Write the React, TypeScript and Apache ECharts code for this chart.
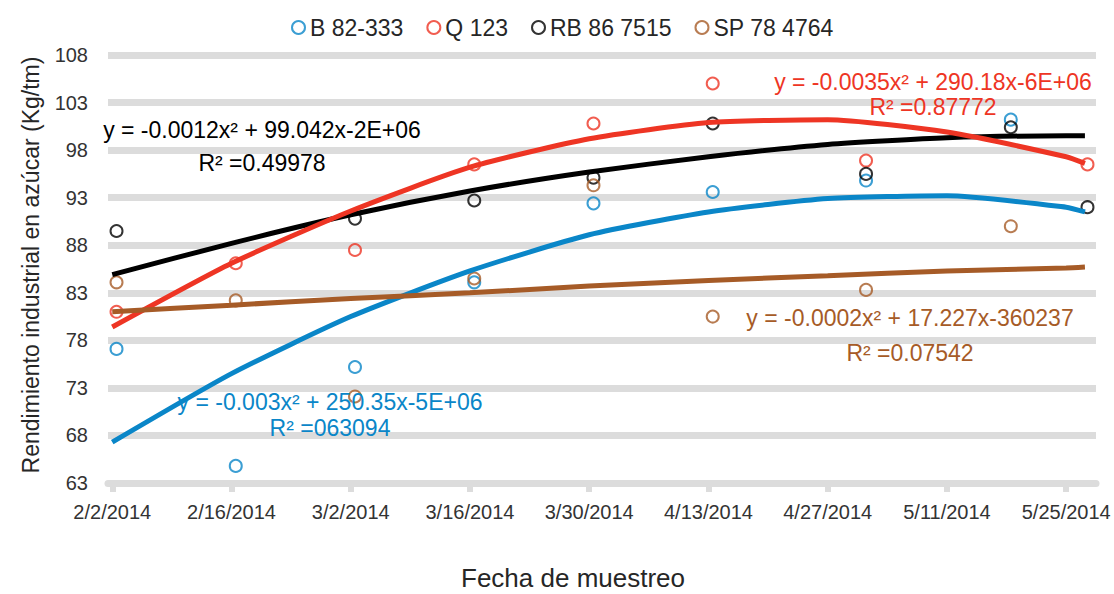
import React, { useEffect, useRef } from "react";
import * as echarts from "echarts";

// Sampling dates (ISO) and observed values; null = no visible point
const sampleDates = [
  "2014-02-02", "2014-02-16", "2014-03-02", "2014-03-16", "2014-03-30",
  "2014-04-13", "2014-05-01", "2014-05-18", "2014-05-27",
];
const seriesNames = ["B 82-333", "Q 123", "RB 86 7515", "SP 78 4764"];
const seriesColors = ["#0a86c8", "#ee3524", "#000000", "#a65b27"];

const valuesB82333 = [77.1, 64.8, 75.2, 84.1, 92.4, 93.6, 94.8, 101.2, null];
const valuesQ123 = [81.0, 86.1, 87.5, 96.5, 100.8, 105.0, 96.9, null, 96.5];
const valuesRB867515 = [89.5, null, 90.8, 92.7, 95.1, 100.8, 95.5, 100.4, 92.0];
const valuesSP784764 = [84.1, 82.2, 72.1, 84.5, 94.3, 80.5, 83.3, 90.0, null];

// Polynomial trend curves (days after 2/2/2014)
const trendDays = [0, 14, 28, 42, 56, 70, 84, 98, 112, 114.2];
const trendB82333 = [67.3, 74.5, 80.5, 85.3, 89.1, 91.5, 92.9, 93.2, 92.0, 91.5];
const trendQ123 = [79.4, 86.1, 91.6, 96.2, 99.2, 100.9, 101.2, 99.9, 97.3, 96.6];
const trendRB867515 = [84.9, 88.2, 91.2, 93.7, 95.7, 97.3, 98.6, 99.3, 99.5, 99.5];
const trendSP784764 = [81.0, 81.7, 82.4, 83.0, 83.7, 84.3, 84.8, 85.3, 85.6, 85.7];

const xTickLabels = [
  "2/2/2014", "2/16/2014", "3/2/2014", "3/16/2014", "3/30/2014",
  "4/13/2014", "4/27/2014", "5/11/2014", "5/25/2014",
];
const yMin = 63;
const yMax = 108;
const yStep = 5;

const equations = [
  "y = -0.003x² + 250.35x-5E+06",
  "y = -0.0035x² + 290.18x-6E+06",
  "y = -0.0012x² + 99.042x-2E+06",
  "y = -0.0002x² + 17.227x-360237",
];
const rSquared = ["R² =063094", "R² =0.87772", "R² =0.49978", "R² =0.07542"];

const BASE = Date.UTC(2014, 1, 2);
const DAY = 86400000;
function isoToDay(s: string) {
  const [y, m, d] = s.split("-").map(Number);
  return (Date.UTC(y, m - 1, d) - BASE) / DAY;
}
function usToDay(s: string) {
  const [m, d, y] = s.split("/").map(Number);
  return (Date.UTC(y, m - 1, d) - BASE) / DAY;
}

const FONT = '"Liberation Sans", Arial, Helvetica, sans-serif';

export default function App() {
  const ref = useRef<HTMLDivElement>(null);
  useEffect(() => {
    if (!ref.current) return;
    const chart = echarts.init(ref.current, undefined, { renderer: "svg" });
    const pointSets = [valuesB82333, valuesQ123, valuesRB867515, valuesSP784764];
    const trendSets = [trendB82333, trendQ123, trendRB867515, trendSP784764];
    const tickDays = xTickLabels.map(usToDay);

    const scatterSeries = seriesNames.map((name, i) => ({
      name,
      type: "scatter",
      symbol: "circle",
      symbolSize: 12,
      z: 2,
      silent: true,
      itemStyle: { color: "rgba(0,0,0,0)", borderColor: seriesColors[i], borderWidth: 2 },
      // points sit in the middle of their day slot on the date axis
      data: sampleDates
        .map((d, k) => [isoToDay(d) + 0.5, pointSets[i][k]])
        .filter((p) => p[1] !== null),
    }));

    const lineOrder = [0, 2, 1, 3];
    const lineSeries = lineOrder.map((i) => ({
      name: seriesNames[i] + " (tendencia)",
      type: "line",
      smooth: 0.2,
      symbol: "none",
      showSymbol: false,
      silent: true,
      z: 3,
      lineStyle: { width: 5, color: seriesColors[i] },
      data: trendDays.map((d, k) => [d, trendSets[i][k]]),
    }));

    const eqPos = [
      { x: 330, y: 402, ry: 428 },
      { x: 933, y: 82, ry: 107 },
      { x: 262, y: 130, ry: 163 },
      { x: 910, y: 318, ry: 353 },
    ];
    const graphics: any[] = [];
    seriesNames.forEach((_, i) => {
      graphics.push({
        type: "text",
        x: eqPos[i].x,
        y: eqPos[i].y,
        z: 10,
        style: {
          text: equations[i],
          fill: seriesColors[i],
          font: `23px ${FONT}`,
          align: "center",
          verticalAlign: "middle",
        },
      });
      graphics.push({
        type: "text",
        x: eqPos[i].x,
        y: eqPos[i].ry,
        z: 10,
        style: {
          text: rSquared[i],
          fill: seriesColors[i],
          font: `23px ${FONT}`,
          align: "center",
          verticalAlign: "middle",
        },
      });
    });
    graphics.push({
      type: "text",
      x: 31,
      y: 265,
      rotation: Math.PI / 2,
      style: {
        text: "Rendimiento industrial en azúcar (Kg/tm)",
        fill: "#262626",
        font: `23px ${FONT}`,
        align: "center",
        verticalAlign: "middle",
      },
    });
    graphics.push({
      type: "text",
      x: 573,
      y: 578,
      style: {
        text: "Fecha de muestreo",
        fill: "#262626",
        font: `26px ${FONT}`,
        align: "center",
        verticalAlign: "middle",
      },
    });

    chart.setOption({
      animation: false,
      backgroundColor: "#ffffff",
      textStyle: { fontFamily: FONT },
      grid: { left: 108, right: 18, top: 55, bottom: 111, containLabel: false },
      legend: {
        left: 286,
        top: 11,
        icon: "circle",
        itemWidth: 13,
        itemHeight: 13,
        itemGap: 23,
        selectedMode: false,
        textStyle: { fontSize: 23, color: "#262626", fontFamily: FONT },
        data: seriesNames.map((n, i) => ({
          name: n,
          itemStyle: { color: "rgba(0,0,0,0)", borderColor: seriesColors[i], borderWidth: 2 },
        })),
      },
      xAxis: {
        type: "value",
        min: -0.5,
        max: 115.5,
        splitLine: { show: false },
        axisLine: { show: true, lineStyle: { color: "#dcdcdc", width: 7 } },
        axisTick: {
          show: true,
          customValues: tickDays,
          length: 9,
          lineStyle: { color: "#dcdcdc", width: 6 },
        },
        axisLabel: {
          customValues: tickDays,
          margin: 19,
          fontSize: 20,
          color: "#333333",
          fontFamily: FONT,
          formatter: (v: number) => {
            const idx = tickDays.findIndex((t) => Math.abs(t - v) < 0.01);
            return idx >= 0 ? xTickLabels[idx] : "";
          },
        },
      },
      yAxis: {
        type: "value",
        min: yMin,
        max: yMax,
        interval: yStep,
        axisLine: { show: false },
        axisTick: { show: false },
        splitLine: { show: true, lineStyle: { color: "#dcdcdc", width: 7 } },
        axisLabel: { margin: 20, fontSize: 20, color: "#333333", fontFamily: FONT },
      },
      graphic: graphics,
      series: [...scatterSeries, ...lineSeries],
    });
    return () => chart.dispose();
  }, []);
  return (
    <div
      ref={ref}
      style={{ position: "absolute", left: 0, top: 0, width: 1114, height: 594 }}
    />
  );
}
